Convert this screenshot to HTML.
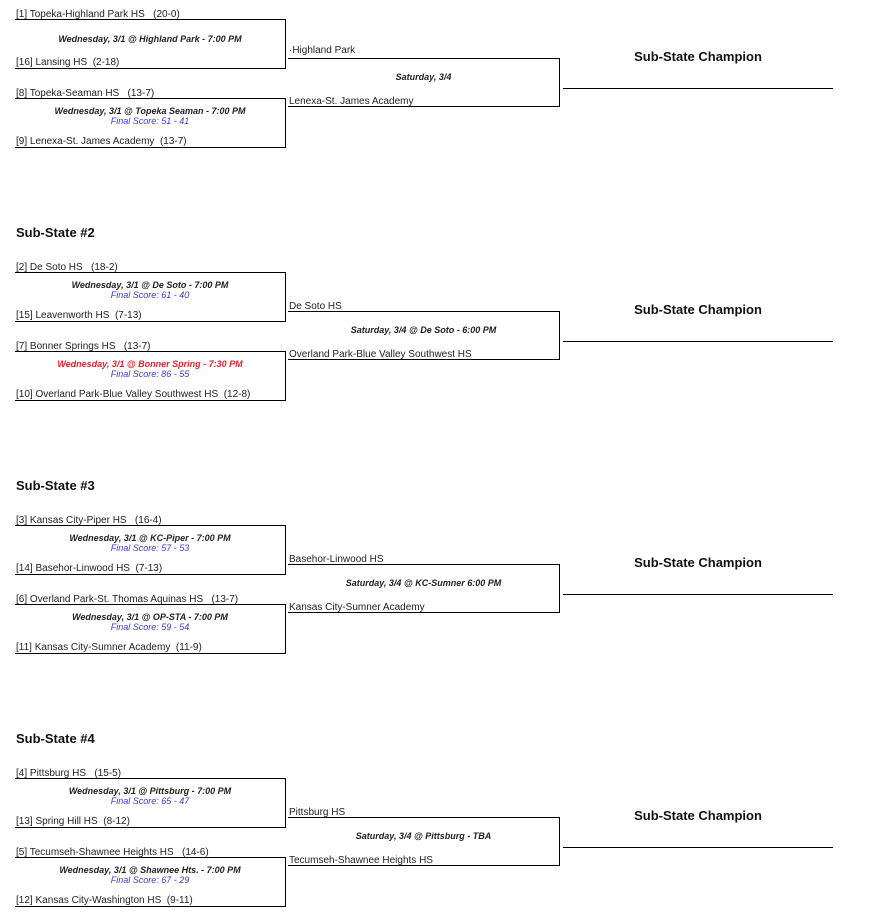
<!DOCTYPE html>
<html><head><meta charset="utf-8"><style>
body{margin:0;width:888px;height:913px;background:#fff;position:relative;font-family:"Liberation Sans",Arial,sans-serif;overflow:hidden}
.t{position:absolute;font-size:10px;line-height:12px;color:#222;white-space:pre}
.g{position:absolute;font-size:9px;line-height:11px;font-weight:bold;font-style:italic;text-align:center;color:#222;white-space:pre}
.s{position:absolute;font-size:9px;line-height:11px;font-style:italic;text-align:center;color:#3b3bcc;white-space:pre}
.box{position:absolute;border-top:1px solid #000;border-right:1px solid #000;border-bottom:1px solid #000}
.hl{position:absolute;height:1px;background:#000}
.h{position:absolute;font-size:13px;font-weight:bold;color:#111}
.c{position:absolute;font-size:13px;font-weight:bold;color:#111;width:270px;text-align:center;left:563px}
</style></head><body>
<div id="root"></div>
<script>
var S=[
{o:0,h:null,t:["[1] Topeka-Highland Park HS   (20-0)","[16] Lansing HS  (2-18)","[8] Topeka-Seaman HS   (13-7)","[9] Lenexa-St. James Academy  (13-7)"],
g1:["Wednesday, 3/1 @ Highland Park - 7:00 PM",null],g2:["Wednesday, 3/1 @ Topeka Seaman - 7:00 PM","Final Score: 51 - 41"],
r:["·Highland Park","Lenexa-St. James Academy"],sat:"Saturday, 3/4",ry:49},
{o:253,h:"Sub-State #2",t:["[2] De Soto HS   (18-2)","[15] Leavenworth HS  (7-13)","[7] Bonner Springs HS   (13-7)","[10] Overland Park-Blue Valley Southwest HS  (12-8)"],
g1:["Wednesday, 3/1 @ De Soto - 7:00 PM","Final Score: 61 - 40"],g2:["Wednesday, 3/1 @ Bonner Spring - 7:30 PM","Final Score: 86 - 55"],red:true,
r:["De Soto HS","Overland Park-Blue Valley Southwest HS"],sat:"Saturday, 3/4 @ De Soto - 6:00 PM",ry:52},
{o:506,h:"Sub-State #3",t:["[3] Kansas City-Piper HS   (16-4)","[14] Basehor-Linwood HS  (7-13)","[6] Overland Park-St. Thomas Aquinas HS   (13-7)","[11] Kansas City-Sumner Academy  (11-9)"],
g1:["Wednesday, 3/1 @ KC-Piper - 7:00 PM","Final Score: 57 - 53"],g2:["Wednesday, 3/1 @ OP-STA - 7:00 PM","Final Score: 59 - 54"],
r:["Basehor-Linwood HS","Kansas City-Sumner Academy"],sat:"Saturday, 3/4 @ KC-Sumner 6:00 PM",ry:52},
{o:759,h:"Sub-State #4",t:["[4] Pittsburg HS   (15-5)","[13] Spring Hill HS  (8-12)","[5] Tecumseh-Shawnee Heights HS   (14-6)","[12] Kansas City-Washington HS  (9-11)"],
g1:["Wednesday, 3/1 @ Pittsburg - 7:00 PM","Final Score: 65 - 47"],g2:["Wednesday, 3/1 @ Shawnee Hts. - 7:00 PM","Final Score: 67 - 29"],
r:["Pittsburg HS","Tecumseh-Shawnee Heights HS"],sat:"Saturday, 3/4 @ Pittsburg - TBA",ry:52}];
var h="";
function tx(c,x,y,s,st){h+='<div class="'+c+'" style="left:'+x+'px;top:'+y+'px;'+(st||'')+'">'+s+'</div>';}
S.forEach(function(d){var o=d.o;
if(d.h)tx("h",16,o-28,d.h);
h+='<div class="box" style="left:15px;top:'+(o+19)+'px;width:270px;height:48px"></div>';
h+='<div class="box" style="left:15px;top:'+(o+98)+'px;width:270px;height:48px"></div>';
h+='<div class="box" style="left:288px;top:'+(o+58)+'px;width:271px;height:47px"></div>';
h+='<div class="hl" style="left:563px;top:'+(o+88)+'px;width:270px"></div>';
tx("t",16,o+9,d.t[0]);tx("t",16,o+57,d.t[1]);tx("t",16,o+88,d.t[2]);tx("t",16,o+136,d.t[3]);
function game(g,y,red){ if(g[1]){tx("g",15,y-5,g[0],"width:270px;"+(red?"color:#e8202a":""));tx("s",15,y+5,g[1],"width:270px");}
 else tx("g",15,y+2,g[0],"width:270px");}
game(d.g1,o+32);game(d.g2,o+111,d.red);
tx("t",289,o+d.ry-4,d.r[0]);tx("t",289,o+96,d.r[1]);
tx("g",288,o+72,d.sat,"width:271px");
tx("c",0,o+49,"Sub-State Champion","left:563px");
});
document.getElementById("root").innerHTML=h;
</script>
</body></html>
